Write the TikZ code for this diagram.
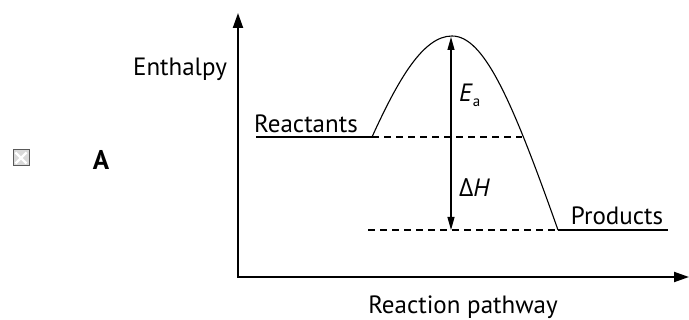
\documentclass[tikz,border=0pt]{standalone}
\usepackage{fontspec}
\setmainfont{PT Sans}
\newfontfamily\grfont{Open Sans}
\usetikzlibrary{arrows.meta}
\begin{document}
\begin{tikzpicture}[x=1pt,y=-1pt,
  lbl/.style={font=\fontsize{25}{28}\selectfont, inner sep=0pt},
  axis/.style={line width=2pt,-{Triangle[length=15pt,width=10pt]}},
  lvl/.style={line width=1.1pt},
  dashline/.style={line width=1.1pt,dash pattern=on 7pt off 5pt}]
\useasboundingbox (0,0) rectangle (689,320);
% checkbox and letter
\coordinate (bxa) at (13,150);
\coordinate (bxb) at (29,166);
\coordinate (bxc) at (13,166);
\coordinate (bxd) at (29,150);
\fill[black!15] (bxa) rectangle (bxb);
\draw[white, line width=2.2pt] ([shift={(2.5,2.5)}]bxa) -- ([shift={(-2.5,-2.5)}]bxb)
  ([shift={(2.5,-2.5)}]bxc) -- ([shift={(-2.5,2.5)}]bxd);
\draw[black!65, line width=1pt] (bxa) rectangle (bxb);
\node[lbl, font=\fontsize{27}{30}\selectfont\bfseries] (A) at (101,160) {A};
% axes
\coordinate (O) at (238,277);
\coordinate (ytop) at (238,13);
\coordinate (xend) at (689,277);
\draw[axis] (O) -- (ytop);
\draw[axis] ([xshift=-1pt]O) -- (xend);
\node[lbl] (enth) at (180,69) {Enthalpy};
\node[lbl] (path) at (463,307) {Reaction pathway};
% levels
\coordinate (rs) at (256,137);
\coordinate (re) at (372,137);
\coordinate (pk) at (452,36);
\coordinate (ps) at (558,230);
\coordinate (pe) at (668,230);
\draw[lvl] (rs) -- (re);
\draw[lvl] (ps) -- (pe);
\draw[lvl] (re) .. controls (398,80) and (423,36) .. (pk)
  .. controls (484,36) and (512,100) .. (ps);
\coordinate (d1e) at (522,137);
\coordinate (d2s) at (368,230);
\draw[dashline] (re) -- (d1e);
\draw[dashline] (d2s) -- (ps);
\node[lbl, anchor=south] (reac) at (306,133) {Reactants};
\node[lbl, anchor=south] (prod) at (617,225) {Products};
% arrow
\coordinate (at) at (451,37);
\coordinate (ab) at (451,230);
\draw[line width=1.1pt,{Triangle[length=13pt,width=7pt]}-{Triangle[length=13pt,width=7pt]}] (at) -- (ab);
\node[lbl, anchor=west] (ea) at (459,95) {\textit{E}\raisebox{-5pt}{\fontsize{15}{18}\selectfont a}};
\node[lbl, anchor=west] (dh) at (459,188) {{\grfont Δ}\textit{H}};
\end{tikzpicture}
\end{document}
